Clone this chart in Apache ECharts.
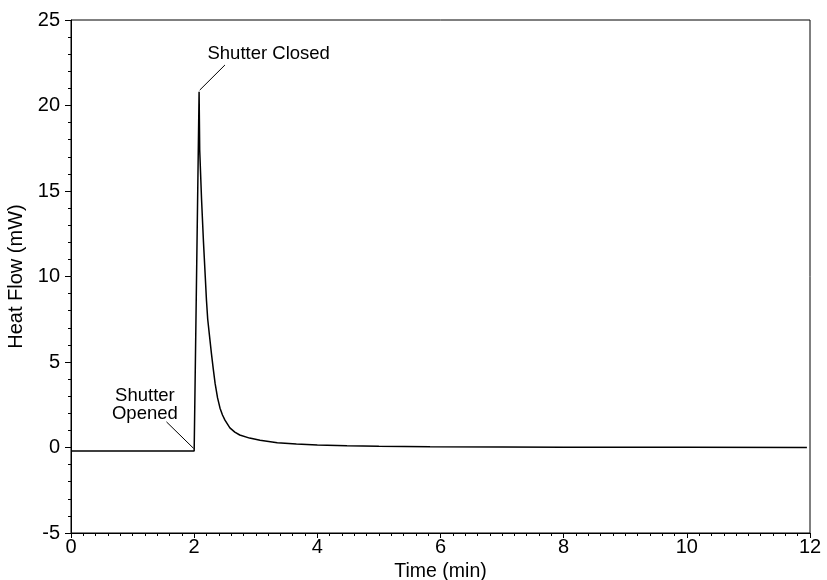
<!DOCTYPE html>
<html>
<head>
<meta charset="utf-8">
<script src="https://cdn.jsdelivr.net/npm/echarts@6/dist/echarts.min.js"></script>
<style>
html,body{margin:0;padding:0;background:#fff;}
#chart{width:827px;height:580px;}
</style>
</head>
<body>
<div id="chart"></div>
<script>
// Data
var timeMin  = [0, 2.0, 2.02, 2.08, 2.09, 2.12, 2.15, 2.18, 2.20, 2.22, 2.25, 2.28, 2.31, 2.34, 2.38, 2.42, 2.46, 2.50, 2.58, 2.66, 2.74, 2.90, 3.07, 3.35, 3.66, 4.00, 4.48, 5.00, 5.83, 7.00, 8.00, 10.00, 11.95];
var heatFlow = [-0.2, -0.2, -0.2, 20.8, 17.4, 14.5, 12.1, 10.0, 8.6, 7.5, 6.5, 5.5, 4.6, 3.75, 2.9, 2.3, 1.9, 1.6, 1.15, 0.90, 0.73, 0.55, 0.42, 0.28, 0.20, 0.15, 0.10, 0.07, 0.04, 0.03, 0.02, 0.01, 0.0];

var xTicks = [0, 2, 4, 6, 8, 10, 12];
var yTicks = [-5, 0, 5, 10, 15, 20, 25];

var annotationText = ['Shutter Closed', 'Shutter\nOpened'];
var annotationX    = [3.21, 1.20];
var annotationY    = [23.0, 2.5];

// leader lines: [x1, y1, x2, y2]
var leaderClosed = [2.50, 22.37, 2.09, 20.9];
var leaderOpened = [1.55, 1.50, 1.99, -0.05];

var FONT = '"Liberation Sans", Arial, sans-serif';

var chart = echarts.init(document.getElementById('chart'));

var lineData = timeMin.map(function (t, i) { return [t, heatFlow[i]]; });
var annData = annotationText.map(function (s, i) { return { value: [annotationX[i], annotationY[i]], name: s }; });

chart.setOption({
  animation: false,
  backgroundColor: '#fff',
  grid: { left: 71, right: 17, top: 20, bottom: 47, outerBoundsMode: 'none', containLabel: false,
          show: true, borderColor: '#000', borderWidth: 1, backgroundColor: 'transparent' },
  xAxis: {
    type: 'value', min: xTicks[0], max: xTicks[xTicks.length - 1], interval: 2,
    name: 'Time (min)', nameLocation: 'middle', nameGap: 22,
    nameTextStyle: { fontFamily: FONT, fontSize: 19.5, color: '#000' },
    axisLine: { show: true, onZero: false, lineStyle: { color: '#000', width: 1 } },
    axisTick: { show: true, inside: false, length: 5, lineStyle: { color: '#000' } },
    minorTick: { show: true, splitNumber: 10, length: 3, lineStyle: { color: '#000' } },
    splitLine: { show: false },
    axisLabel: { fontFamily: FONT, fontSize: 20, color: '#000', margin: 4 }
  },
  yAxis: {
    type: 'value', min: yTicks[0], max: yTicks[yTicks.length - 1], interval: 5,
    name: 'Heat Flow (mW)', nameLocation: 'middle', nameGap: 32,
    nameTextStyle: { fontFamily: FONT, fontSize: 20, color: '#000' },
    axisLine: { show: true, onZero: false, lineStyle: { color: '#000', width: 1 } },
    axisTick: { show: true, inside: false, length: 6, lineStyle: { color: '#000' } },
    minorTick: { show: true, splitNumber: 5, length: 3, lineStyle: { color: '#000' } },
    splitLine: { show: false },
    axisLabel: { fontFamily: FONT, fontSize: 20, color: '#000', margin: 11 }
  },
  series: [
    {
      type: 'line', data: lineData, showSymbol: false, symbol: 'none',
      lineStyle: { color: '#000', width: 1.5 }, silent: true
    },
    {
      type: 'line', data: [[leaderClosed[0], leaderClosed[1]], [leaderClosed[2], leaderClosed[3]]],
      showSymbol: false, symbol: 'none', lineStyle: { color: '#000', width: 1 }, silent: true
    },
    {
      type: 'line', data: [[leaderOpened[0], leaderOpened[1]], [leaderOpened[2], leaderOpened[3]]],
      showSymbol: false, symbol: 'none', lineStyle: { color: '#000', width: 1 }, silent: true
    },
    {
      type: 'scatter', data: annData, symbolSize: 0, silent: true,
      itemStyle: { opacity: 1 },
      label: {
        show: true, position: 'inside', formatter: function (p) { return p.name; },
        fontFamily: FONT, fontSize: 18.5, color: '#000', lineHeight: 18, align: 'center'
      }
    }
  ]
});
</script>
</body>
</html>
